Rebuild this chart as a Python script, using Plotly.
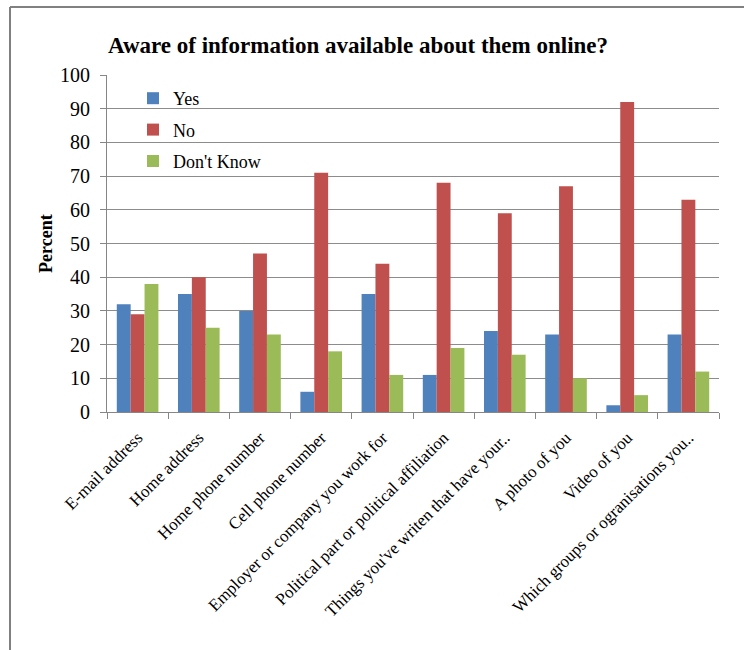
import plotly.graph_objects as go

categories = [
    "E-mail address",
    "Home address",
    "Home phone number",
    "Cell phone number",
    "Employer or company you work for",
    "Political part or political affiliation",
    "Things you've writen that have your..",
    "A photo of you",
    "Video of you",
    "Which groups or ogranisations you..",
]
yes_vals = [32, 35, 30, 6, 35, 11, 24, 23, 2, 23]
no_vals = [29, 40, 47, 71, 44, 68, 59, 67, 92, 63]
dont_know_vals = [38, 25, 23, 18, 11, 19, 17, 10, 5, 12]
y_ticks = [0, 10, 20, 30, 40, 50, 60, 70, 80, 90, 100]

SERIF = "Liberation Serif, Times New Roman, serif"
W, H = 744, 650
L, R, T, B = 107, 25, 75, 238
pw, ph = W - L - R, H - T - B

def px_x(x):
    return (x - L) / pw

def px_y(y):
    return (H - B - y) / ph

fig = go.Figure()
series = [
    ("Yes", yes_vals, "#4F81BD"),
    ("No", no_vals, "#C0504D"),
    ("Don't Know", dont_know_vals, "#9BBB59"),
]
for name, vals, color in series:
    fig.add_trace(go.Bar(
        x=categories, y=vals, name=name, legendgroup=name,
        marker=dict(color=color, line=dict(width=0)),
    ))

# chart frame (top and left edges)
frame = dict(type="line", xref="paper", yref="paper",
             line=dict(color="#808080", width=2))
fig.add_shape(**frame, x0=px_x(10), y0=px_y(7), x1=px_x(744), y1=px_y(7))
fig.add_shape(**frame, x0=px_x(10), y0=px_y(7), x1=px_x(10), y1=px_y(650))

fig.add_annotation(
    text="<b>Percent</b>", textangle=-90, showarrow=False,
    xref="paper", yref="paper", x=px_x(46), y=px_y(243),
    xanchor="center", yanchor="middle",
    font=dict(family=SERIF, size=18, color="black"),
)

fig.update_layout(
    width=W, height=H,
    margin=dict(l=L, r=R, t=T, b=B, autoexpand=False),
    paper_bgcolor="white", plot_bgcolor="white",
    barmode="group", bargap=0.32, bargroupgap=0,
    title=dict(
        text="<b>Aware of information available about them online?</b>",
        x=108 / W, xanchor="left", xref="container",
        y=1 - 45 / H, yanchor="middle",
        font=dict(family=SERIF, size=23, color="black"),
    ),
    legend=dict(
        x=px_x(133), y=px_y(80), xanchor="left", yanchor="top",
        bgcolor="rgba(0,0,0,0)", tracegroupgap=5,
        font=dict(family=SERIF, size=18, color="black"),
        itemwidth=30,
    ),
    xaxis=dict(
        tickangle=-45, tickson="boundaries", ticks="outside", ticklen=6,
        tickcolor="#868686", showline=True, linecolor="#868686", linewidth=1,
        showgrid=False, automargin=False, ticklabelstandoff=8,
        tickfont=dict(family=SERIF, size=17, color="black"),
    ),
    yaxis=dict(
        range=[0, 100], tickvals=y_ticks, ticks="outside", ticklen=6,
        tickcolor="#868686", showline=True, linecolor="#868686", linewidth=1,
        showgrid=True, gridcolor="#8c8c8c", gridwidth=1, zeroline=False,
        automargin=False, ticklabelstandoff=6,
        tickfont=dict(family=SERIF, size=20, color="black"),
    ),
)

fig.write_html("out.html")
